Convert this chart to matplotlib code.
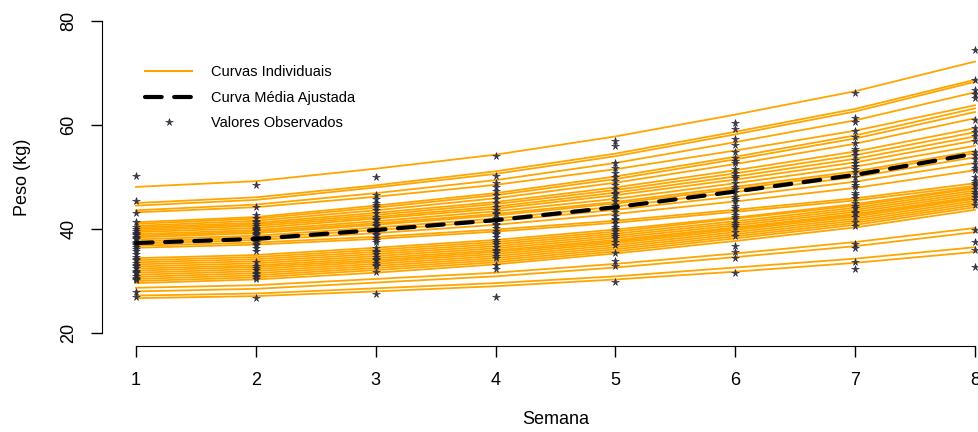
import numpy as np
import matplotlib
matplotlib.use('Agg')
import matplotlib.pyplot as plt
from matplotlib.lines import Line2D

plt.rcParams['font.family'] = ['Liberation Sans', 'DejaVu Sans']

# semanas e curva media ajustada
semana = [1, 2, 3, 4, 5, 6, 7, 8]
media_ajustada = [37.3, 38.1, 39.8, 41.7, 44.2, 47.2, 50.4, 54.5]

# curvas individuais ajustadas (valores por semana)
curvas = [
    [48.1, 49.2, 51.6, 54.3, 57.8, 62.0, 66.5, 72.2],
    [45.0, 46.1, 48.4, 51.1, 54.5, 58.7, 63.1, 68.7],
    [44.5, 45.6, 48.0, 50.6, 54.0, 58.2, 62.6, 68.3],
    [43.6, 44.7, 46.9, 49.4, 52.7, 56.7, 60.9, 66.3],
    [43.2, 44.2, 46.2, 48.5, 51.5, 55.1, 58.9, 63.8],
    [41.3, 42.3, 44.5, 46.9, 50.1, 53.9, 58.0, 63.2],
    [41.0, 42.0, 44.1, 46.5, 49.6, 53.4, 57.4, 62.5],
    [40.6, 41.6, 43.6, 45.9, 48.9, 52.5, 56.4, 61.3],
    [40.3, 41.2, 43.1, 45.2, 48.0, 51.3, 54.9, 59.4],
    [40.0, 40.9, 42.7, 44.8, 47.5, 50.7, 54.2, 58.6],
    [39.7, 40.6, 42.3, 44.3, 47.0, 50.1, 53.5, 57.8],
    [39.4, 40.2, 42.0, 43.9, 46.5, 49.5, 52.8, 57.0],
    [39.0, 39.8, 41.5, 43.4, 45.8, 48.8, 52.0, 56.0],
    [38.7, 39.5, 41.1, 42.9, 45.2, 48.1, 51.1, 55.0],
    [38.4, 39.2, 40.8, 42.6, 44.9, 47.7, 50.7, 54.6],
    [38.0, 38.7, 40.3, 42.0, 44.3, 47.1, 50.0, 53.8],
    [37.6, 38.3, 39.8, 41.5, 43.7, 46.3, 49.1, 52.7],
    [37.2, 37.9, 39.2, 40.8, 42.9, 45.3, 47.9, 51.3],
    [36.8, 37.4, 38.5, 39.9, 41.6, 43.7, 45.9, 48.8],
    [36.4, 37.0, 38.1, 39.5, 41.2, 43.3, 45.5, 48.3],
    [34.4, 35.0, 36.4, 37.9, 39.9, 42.2, 44.8, 48.0],
    [34.0, 34.6, 36.0, 37.5, 39.5, 42.0, 44.5, 47.8],
    [33.6, 34.2, 35.6, 37.1, 39.1, 41.5, 44.1, 47.4],
    [33.2, 33.8, 35.2, 36.7, 38.7, 41.1, 43.7, 47.0],
    [32.8, 33.4, 34.8, 36.3, 38.3, 40.7, 43.3, 46.6],
    [32.4, 33.0, 34.4, 35.9, 37.9, 40.3, 42.9, 46.2],
    [32.0, 32.7, 34.0, 35.6, 37.6, 40.1, 42.7, 46.0],
    [31.6, 32.3, 33.7, 35.2, 37.3, 39.8, 42.4, 45.8],
    [31.2, 31.9, 33.3, 34.8, 36.9, 39.4, 42.0, 45.4],
    [30.8, 31.5, 32.9, 34.4, 36.5, 39.0, 41.6, 45.0],
    [30.4, 31.1, 32.5, 34.0, 36.1, 38.6, 41.2, 44.6],
    [30.0, 30.7, 32.1, 33.6, 35.7, 38.2, 40.8, 44.2],
    [29.6, 30.3, 31.6, 33.2, 35.3, 37.7, 40.3, 43.7],
    [28.7, 29.2, 30.4, 31.6, 33.3, 35.3, 37.5, 40.2],
    [28.0, 28.5, 29.7, 30.9, 32.6, 34.6, 36.7, 39.4],
    [27.2, 27.6, 28.6, 29.6, 30.9, 32.6, 34.3, 36.5],
    [26.7, 27.1, 28.0, 29.0, 30.3, 31.8, 33.5, 35.6],
]

# valores observados em cada semana
obs_s1 = [50.1, 45.3, 43.1, 41.4, 40.4, 40.0, 39.6, 39.2, 39.0, 38.8, 38.4, 38.2, 38.0,
          37.6, 37.4, 37.2, 36.9, 36.6, 36.2, 35.8, 35.2, 34.6, 34.3, 34.0, 33.5, 33.0,
          32.8, 32.5, 32.0, 31.8, 31.5, 31.0, 30.6, 30.4, 30.2, 27.9, 27.0]
obs_s2 = [48.4, 44.3, 42.7, 42.2, 41.6, 41.3, 41.0, 40.5, 40.2, 40.0, 39.8, 39.6, 39.2,
          39.0, 38.8, 38.4, 38.2, 38.0, 37.6, 37.2, 36.9, 36.3, 35.7, 33.6, 32.8, 32.5,
          32.2, 31.6, 31.3, 31.0, 30.8, 30.4, 26.7]
obs_s3 = [50.0, 46.5, 45.8, 45.0, 44.6, 44.3, 43.6, 43.0, 42.4, 42.0, 41.8, 41.2, 40.8,
          40.6, 40.0, 39.4, 39.0, 38.8, 38.2, 37.9, 37.6, 36.4, 35.8, 35.5, 35.2, 34.6,
          34.3, 34.0, 33.4, 33.1, 32.8, 31.8, 27.6]
obs_s4 = [54.0, 50.1, 48.8, 48.0, 47.3, 46.5, 45.8, 45.0, 44.3, 43.6, 43.0, 42.9, 42.2,
          41.5, 41.0, 40.8, 40.2, 39.6, 39.3, 39.0, 38.4, 37.8, 37.5, 37.2, 36.6, 36.0,
          35.7, 35.4, 34.8, 34.4, 33.1, 32.3, 27.0]
obs_s5 = [57.0, 56.0, 52.7, 51.8, 50.8, 50.0, 49.2, 48.4, 47.6, 47.0, 46.8, 46.0, 45.3,
          44.6, 44.0, 43.9, 43.2, 42.5, 42.0, 41.8, 41.1, 40.4, 40.0, 39.7, 39.0, 38.6,
          38.3, 37.6, 37.0, 35.4, 33.9, 32.8, 29.8]
obs_s6 = [60.3, 59.2, 57.4, 56.2, 54.9, 53.6, 53.0, 52.6, 51.6, 50.7, 50.2, 49.8, 48.9,
          48.0, 47.6, 47.1, 46.2, 45.8, 45.3, 44.4, 44.0, 43.5, 42.7, 42.3, 41.9, 41.1,
          40.7, 40.3, 39.5, 38.6, 36.8, 35.6, 34.5, 31.5]
obs_s7 = [66.2, 61.4, 60.5, 58.8, 57.6, 56.5, 55.4, 55.0, 54.3, 53.2, 52.6, 52.1, 51.5,
          51.0, 50.0, 49.0, 48.5, 48.0, 47.0, 46.5, 46.0, 45.0, 44.5, 44.1, 43.2, 43.0,
          42.3, 41.4, 40.5, 37.2, 36.3, 33.7, 32.3]
obs_s8 = [74.4, 68.7, 66.8, 66.0, 65.2, 61.0, 59.4, 58.6, 57.8, 57.0, 54.8, 54.2, 53.4,
          52.5, 51.8, 51.3, 50.0, 49.2, 48.8, 48.4, 47.6, 47.2, 46.8, 46.2, 45.5, 44.6,
          39.8, 37.5, 36.0, 32.7]
observados = [obs_s1, obs_s2, obs_s3, obs_s4, obs_s5, obs_s6, obs_s7, obs_s8]

# %%
fig = plt.figure(figsize=(9.79, 4.32), dpi=100)
# plot region like R (extends past the right edge of the image)
ax = fig.add_axes([102.4 / 979, 0.2002, 906.2 / 979, 0.7801])

for c in curvas:
    ax.plot(semana, c, color='#FFA500', lw=1.3, zorder=1)

for s, vals in zip(semana, observados):
    ax.plot([s] * len(vals), vals, ls='none', marker='*', ms=5.5,
            color='#3a3a4a', mec='#222233', mew=0.4, zorder=2)

ax.plot(semana, media_ajustada, color='black', lw=3, dashes=[4, 3],
        dash_capstyle='round', zorder=3)

ax.set_xlim(0.72, 8.28)
ax.set_ylim(17.6, 82.4)
ax.set_xticks(semana)
ax.set_yticks([20, 40, 60, 80])
for side in ['top', 'right']:
    ax.spines[side].set_visible(False)
ax.spines['left'].set_bounds(20, 80)
ax.spines['bottom'].set_bounds(1, 8)
ax.tick_params(direction='out', length=8, width=1, labelsize=13)
ax.tick_params(axis='x', pad=11)
ax.tick_params(axis='y', pad=10)
for lab in ax.get_yticklabels():
    lab.set_rotation(90)
    lab.set_va('center')

ax.set_xlabel('Semana', fontsize=13, labelpad=16)
ax.set_ylabel('Peso (kg)', fontsize=13, labelpad=21)

handles = [
    Line2D([], [], color='#FFA500', lw=1.5),
    Line2D([], [], color='black', lw=3, dashes=[4, 3], dash_capstyle='round'),
    Line2D([], [], ls='none', marker='*', ms=5.5, color='#3a3a4a', mec='#222233', mew=0.4),
]
ax.legend(handles, ['Curvas Individuais', 'Curva Média Ajustada', 'Valores Observados'],
          loc='upper left', bbox_to_anchor=(138 / 979, 1 - 58 / 432),
          bbox_transform=fig.transFigure, frameon=False, fontsize=10.5,
          handlelength=3.2, handletextpad=1.3, labelspacing=0.78, borderpad=0)

fig.savefig('out.png', dpi=100)
